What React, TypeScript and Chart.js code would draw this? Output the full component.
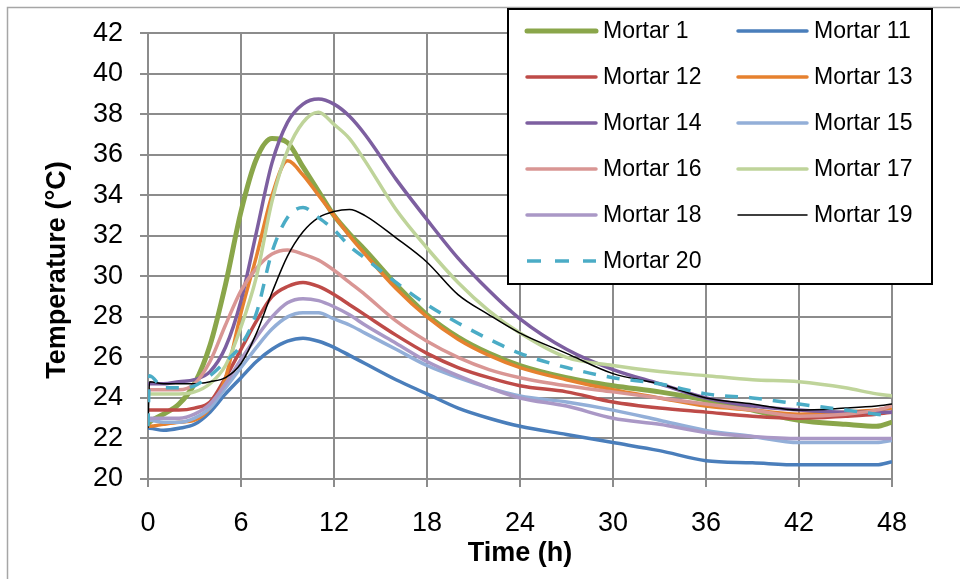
import React, { useEffect, useRef } from "react";
import { Chart, registerables } from "chart.js";

Chart.register(...registerables);

// ---- data ----
const hours = [0, 0.1, 1, 2, 3, 4, 5, 6, 7, 8, 9, 10, 11, 12, 13, 14, 16, 18, 20, 22, 24, 27, 30, 33, 36, 39, 42, 45, 47, 48];

const mortar1 = [22.7, 22.8, 23.2, 23.7, 24.7, 26.6, 29.6, 33.2, 35.8, 36.8, 36.6, 35.4, 34.2, 33.0, 32.1, 31.3, 29.6, 28.1, 27.0, 26.2, 25.6, 25.0, 24.6, 24.3, 23.9, 23.4, 22.9, 22.7, 22.6, 22.8];
const mortar11 = [22.5, 22.5, 22.4, 22.5, 22.7, 23.3, 24.2, 25.0, 25.8, 26.4, 26.8, 26.95, 26.8, 26.5, 26.1, 25.7, 24.9, 24.2, 23.5, 23.0, 22.6, 22.2, 21.8, 21.4, 20.9, 20.8, 20.7, 20.7, 20.7, 20.85];
const mortar12 = [23.4, 23.4, 23.4, 23.4, 23.5, 23.8, 25.0, 26.4, 27.8, 29.0, 29.5, 29.7, 29.5, 29.1, 28.6, 28.1, 27.1, 26.2, 25.5, 25.0, 24.6, 24.3, 23.8, 23.5, 23.3, 23.1, 23.0, 23.1, 23.2, 23.3];
const mortar13 = [22.6, 22.6, 22.7, 22.8, 22.9, 23.5, 25.0, 28.2, 31.0, 34.0, 35.7, 35.0, 34.0, 33.0, 32.0, 31.1, 29.4, 28.0, 26.9, 26.1, 25.5, 24.9, 24.4, 24.0, 23.6, 23.4, 23.2, 23.3, 23.4, 23.5];
const mortar14 = [24.7, 24.7, 24.7, 24.8, 24.9, 25.3, 26.5, 28.8, 32.2, 35.6, 37.6, 38.5, 38.75, 38.5, 37.9, 37.0, 34.8, 32.8, 30.9, 29.3, 27.9, 26.4, 25.4, 24.7, 24.0, 23.6, 23.4, 23.3, 23.3, 23.3];
const mortar15 = [22.9, 22.9, 22.8, 22.8, 23.0, 23.5, 24.5, 25.5, 26.5, 27.4, 28.0, 28.2, 28.2, 27.9, 27.6, 27.2, 26.4, 25.6, 25.0, 24.5, 24.1, 23.8, 23.4, 22.9, 22.4, 22.1, 21.8, 21.8, 21.8, 21.9];
const mortar16 = [24.4, 24.4, 24.4, 24.4, 24.7, 25.8, 27.6, 29.3, 30.4, 31.1, 31.3, 31.1, 30.8, 30.3, 29.7, 29.1, 27.8, 26.8, 26.0, 25.4, 25.0, 24.6, 24.3, 24.0, 23.7, 23.4, 23.1, 23.2, 23.4, 23.6];
const mortar17 = [24.2, 24.2, 24.2, 24.2, 24.3, 24.7, 25.6, 27.5, 30.0, 33.7, 36.2, 37.6, 38.1, 37.5, 36.8, 35.7, 33.3, 31.4, 29.7, 28.3, 27.2, 26.0, 25.6, 25.3, 25.1, 24.9, 24.8, 24.5, 24.2, 24.1];
const mortar18 = [23.0, 23.0, 23.0, 23.0, 23.2, 23.7, 24.7, 25.9, 27.0, 28.0, 28.7, 28.9, 28.8, 28.5, 28.1, 27.6, 26.7, 25.8, 25.1, 24.5, 24.0, 23.6, 23.0, 22.7, 22.3, 22.1, 22.0, 22.0, 22.0, 22.0];
const mortar19 = [22.5, 24.8, 24.7, 24.7, 24.7, 24.8, 25.0, 25.7, 27.2, 29.2, 31.0, 32.2, 32.9, 33.2, 33.3, 33.0, 31.9, 30.7, 29.1, 28.1, 27.2, 26.2, 25.2, 24.7, 24.0, 23.7, 23.4, 23.5, 23.6, 23.7];
const mortar20 = [22.6, 25.1, 24.5, 24.5, 24.6, 25.1, 25.8, 26.6, 28.2, 31.2, 32.9, 33.4, 32.9, 32.3, 31.5, 30.9, 29.7, 28.6, 27.7, 26.9, 26.2, 25.5, 25.0, 24.7, 24.2, 24.0, 23.7, 23.4, 23.2, 23.1];

const seriesLabels = ["Mortar 1", "Mortar 11", "Mortar 12", "Mortar 13", "Mortar 14", "Mortar 15", "Mortar 16", "Mortar 17", "Mortar 18", "Mortar 19", "Mortar 20"];
const seriesValues = [mortar1, mortar11, mortar12, mortar13, mortar14, mortar15, mortar16, mortar17, mortar18, mortar19, mortar20];
const seriesColors = ["#8aa64a", "#4a7ebb", "#be4b48", "#e6812f", "#7d5fa0", "#93afd8", "#d99694", "#bfd49a", "#aa98c6", "#000000", "#4bacc6"];
const seriesWidths = [5, 3.5, 3.5, 3.5, 3.5, 3.5, 3.5, 3.5, 3.5, 1.5, 3.5];
const seriesDash: number[][] = [[], [], [], [], [], [], [], [], [], [], [13, 11]];

const xTicks = { min: 0, max: 48, step: 6 };
const yTicks = { min: 20, max: 42, step: 2 };
const xTitle = "Time (h)";
const yTitle = "Temperature (°C)";

const FONT = "'Liberation Sans', Arial, sans-serif";

const framePlugin = {
  id: "frameAndLegend",
  beforeDraw(chart: any) {
    const ctx = chart.ctx;
    ctx.save();
    ctx.fillStyle = "#ffffff";
    ctx.fillRect(0, 0, chart.width, chart.height);
    ctx.strokeStyle = "#a6a6a6";
    ctx.lineWidth = 1.5;
    ctx.strokeRect(7.5, 7.5, chart.width + 20, chart.height + 20);
    ctx.restore();
  },
  afterDraw(chart: any) {
    const ctx = chart.ctx;
    const area = chart.chartArea;
    ctx.save();
    // axis titles
    ctx.fillStyle = "#000";
    ctx.font = `bold 27px ${FONT}`;
    ctx.textAlign = "center";
    ctx.textBaseline = "middle";
    ctx.fillText(xTitle, (area.left + area.right) / 2, 554);
    ctx.save();
    ctx.translate(58, 270);
    ctx.rotate(-Math.PI / 2);
    ctx.fillText(yTitle, 0, 0);
    ctx.restore();

    // legend box
    const bx = 508, by = 9, bw = 424, bh = 275;
    ctx.fillStyle = "#ffffff";
    ctx.fillRect(bx, by, bw, bh);
    ctx.strokeStyle = "#000";
    ctx.lineWidth = 2;
    ctx.strokeRect(bx, by, bw, bh);
    ctx.font = `23px ${FONT}`;
    ctx.textAlign = "left";
    chart.data.datasets.forEach((ds: any, i: number) => {
      const col = i % 2;
      const row = Math.floor(i / 2);
      const x0 = col === 0 ? 527 : 738;
      const y = 31 + row * 46;
      ctx.beginPath();
      ctx.strokeStyle = ds.borderColor;
      ctx.lineWidth = ds.borderWidth;
      ctx.lineCap = ds.borderDash && ds.borderDash.length ? "butt" : "round";
      ctx.setLineDash(ds.borderDash && ds.borderDash.length ? [14, 14] : []);
      ctx.moveTo(x0, y);
      ctx.lineTo(x0 + 69, y);
      ctx.stroke();
      ctx.setLineDash([]);
      ctx.fillStyle = "#000";
      ctx.fillText(ds.label, x0 + 76, y + 1);
    });
    ctx.restore();
  },
};

export default function App() {
  const ref = useRef<HTMLCanvasElement>(null);
  useEffect(() => {
    document.body.style.margin = "0";
    const datasets = seriesLabels.map((label, i) => ({
      label,
      data: hours.map((h, j) => ({ x: h, y: seriesValues[i][j] })),
      borderColor: seriesColors[i],
      backgroundColor: seriesColors[i],
      borderWidth: seriesWidths[i],
      borderDash: seriesDash[i],
      pointRadius: 0,
      fill: false,
      cubicInterpolationMode: "monotone" as const,
      order: seriesLabels.length - i,
    }));
    const chart = new Chart(ref.current!, {
      type: "line",
      data: { datasets },
      plugins: [framePlugin],
      options: {
        animation: false,
        responsive: false,
        devicePixelRatio: 1,
        layout: { padding: { left: 0, right: 68, top: 33, bottom: 0 } },
        plugins: { legend: { display: false }, tooltip: { enabled: false } },
        scales: {
          x: {
            type: "linear",
            min: xTicks.min,
            max: xTicks.max,
            afterFit: (s: any) => { s.height = 100; },
            ticks: { stepSize: xTicks.step, color: "#000", font: { family: FONT, size: 27 }, padding: 20, maxRotation: 0 },
            grid: { color: "#8c8c8c", lineWidth: 2, tickLength: 8 },
            border: { color: "#8c8c8c", width: 2 },
          },
          y: {
            type: "linear",
            min: yTicks.min,
            max: yTicks.max,
            afterFit: (s: any) => { s.width = 148; },
            ticks: { stepSize: yTicks.step, color: "#000", font: { family: FONT, size: 27 }, padding: 17 },
            grid: { color: "#8c8c8c", lineWidth: 2, tickLength: 8 },
            border: { color: "#8c8c8c", width: 2 },
          },
        },
      },
    });
    return () => chart.destroy();
  }, []);
  return (
    <div style={{ position: "absolute", left: 0, top: 0, width: 960, height: 579 }}>
      <canvas ref={ref} width={960} height={579} />
    </div>
  );
}
